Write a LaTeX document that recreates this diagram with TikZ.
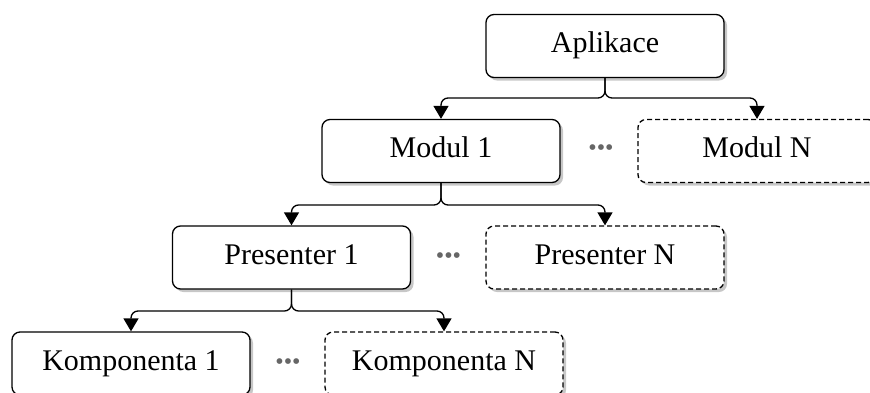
\documentclass[tikz,border=0pt]{standalone}
\usepackage{fontspec}
\setmainfont{Liberation Serif}
\usetikzlibrary{arrows.meta,shadows}
\begin{document}
\begin{tikzpicture}[x=1pt,y=-1pt,
  box/.style={draw, line width=1.3pt, rounded corners=8pt, fill=white,
    minimum width=238pt, minimum height=63pt, inner sep=0pt,
    text height=21pt, text depth=7.5pt,
    font=\fontsize{30}{34}\selectfont,
    drop shadow={shadow xshift=3pt, shadow yshift=-3pt, fill=black!40, opacity=0.55}},
  dbox/.style={box, dash pattern=on 5pt off 3pt},
  conn/.style={draw, line width=1.3pt, rounded corners=7pt,
    -{Triangle[length=13pt,width=15pt]}},
  dots/.style={text=black!60, inner sep=0pt, font=\fontsize{24}{26}\selectfont}
]
\useasboundingbox (0,0) rectangle (870,392);

\node[box]  (app) at (605,46)    {Aplikace};
\node[box]  (m1)  at (441,151)   {Modul 1};
\node[dbox] (mn)  at (757,151)   {Modul N};
\node[box]  (p1)  at (291.5,257.5) {Presenter 1};
\node[dbox] (pn)  at (605,257.5) {Presenter N};
\node[box]  (k1)  at (131,363.5) {Komponenta 1};
\node[dbox] (kn)  at (444,363.5) {Komponenta N};

\node[dots] (d1) at (601,150) {•••};
\node[dots] (d2) at (448.5,258) {•••};
\node[dots] (d3) at (288,364) {•••};

\coordinate (j1) at (605,98);
\coordinate (j2) at (441,205);
\coordinate (j3) at (291.5,311);

\draw[conn] (app.south) |- (m1.north |- j1) -- (m1.north);
\draw[conn] (app.south) |- (mn.north |- j1) -- (mn.north);
\draw[conn] (m1.south) |- (p1.north |- j2) -- (p1.north);
\draw[conn] (m1.south) |- (pn.north |- j2) -- (pn.north);
\draw[conn] (p1.south) |- (k1.north |- j3) -- (k1.north);
\draw[conn] (p1.south) |- (kn.north |- j3) -- (kn.north);
\end{tikzpicture}
\end{document}
